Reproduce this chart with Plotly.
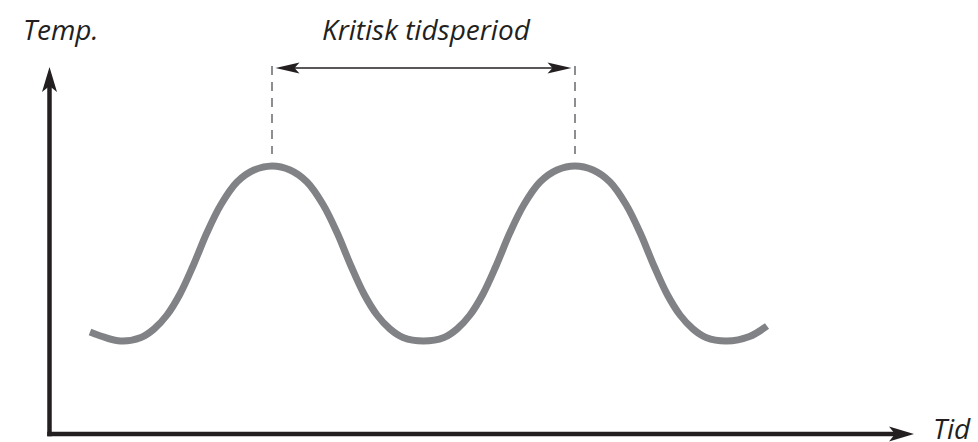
"""Schematic: temperature cycling over time with the critical period marked."""
import plotly.graph_objects as go

# ----- data (time units, temperature units) -----
CURVE_T = [
    4.05, 7.1, 9.15, 10.45, 11.75, 13.05, 14.35, 15.75, 17.15, 18.75, 20.45,
    22.25, 24.05, 25.75, 27.35, 28.75, 30.15, 31.45, 32.75, 34.05, 35.35, 37.4,
    39.45, 40.75, 42.05, 43.35, 44.65, 46.05, 47.45, 49.05, 50.75,
    52.55, 54.35, 56.05, 57.65, 59.05, 60.45, 61.75, 63.05, 64.35, 65.65, 67.7,
    70.0, 71.75,
]
CURVE_TEMP = [
    10.2, 9.3, 9.65, 10.5, 11.9, 14.0, 16.8, 20.15, 22.95, 25.2, 26.4,
    26.8, 26.4, 25.2, 22.95, 20.15, 16.8, 14.0, 11.9, 10.5, 9.65, 9.3,
    9.65, 10.5, 11.9, 14.0, 16.8, 20.15, 22.95, 25.2, 26.4,
    26.8, 26.4, 25.2, 22.95, 20.15, 16.8, 14.0, 11.9, 10.5, 9.65, 9.3,
    9.75, 10.8,
]
PEAKS_T = [22.25, 52.55]          # the two maxima bounding the critical period
PERIOD_Y = 36.6                   # height of the double arrow
GUIDE_BOTTOM = 28.0               # dashed guides stop just above the curve
AXIS_T_END = 86.45
AXIS_TEMP_END = 36.7

LABEL_Y = "Temp."
LABEL_X = "Tid"
LABEL_PERIOD = "Kritisk tidsperiod"

INK = "#231f20"
CURVE_GREY = "#808285"
PX = 10.0  # pixels per data unit (both axes)


def head_path(tip_x, tip_y, dx, dy, length, width, notch):
    """Stealth arrowhead path, tip at (tip_x, tip_y) pointing along (dx, dy)."""
    L, W, N = length / PX, width / PX / 2, notch / PX
    px_, py_ = -dy, dx
    bx, by = tip_x - dx * L, tip_y - dy * L
    cx, cy = tip_x - dx * (L - N), tip_y - dy * (L - N)
    pts = [(tip_x, tip_y), (bx + px_ * W, by + py_ * W), (cx, cy), (bx - px_ * W, by - py_ * W)]
    return "M" + " L".join(f"{x:.3f},{y:.3f}" for x, y in pts) + " Z"


fig = go.Figure()
fig.add_trace(go.Scatter(
    x=CURVE_T, y=CURVE_TEMP, mode="lines",
    line=dict(color=CURVE_GREY, width=7, shape="spline", smoothing=1.0),
    hoverinfo="skip",
))

shapes = []
half = 4.5 / PX / 2
# axes
shapes.append(dict(type="line", x0=-half, y0=0, x1=AXIS_T_END - 1.8, y1=0,
                   line=dict(color=INK, width=4.5)))
shapes.append(dict(type="line", x0=0, y0=-half, x1=0, y1=AXIS_TEMP_END - 1.8,
                   line=dict(color=INK, width=4.5)))
shapes.append(dict(type="path", path=head_path(AXIS_T_END, 0, 1, 0, 25, 15, 6),
                   fillcolor=INK, line=dict(width=0)))
shapes.append(dict(type="path", path=head_path(0, AXIS_TEMP_END, 0, 1, 25, 15, 6),
                   fillcolor=INK, line=dict(width=0)))
# dashed guides at the peaks
for t in PEAKS_T:
    shapes.append(dict(type="line", x0=t, y0=PERIOD_Y + 0.2, x1=t, y1=GUIDE_BOTTOM,
                       line=dict(color=CURVE_GREY, width=1.8, dash="9px,7px")))
# double arrow
a0, a1 = PEAKS_T[0] + 0.35, PEAKS_T[1] - 0.35
shapes.append(dict(type="line", x0=a0 + 1.5, y0=PERIOD_Y, x1=a1 - 1.5, y1=PERIOD_Y,
                   line=dict(color=INK, width=1.3)))
shapes.append(dict(type="path", path=head_path(a0, PERIOD_Y, -1, 0, 24, 11, 5),
                   fillcolor=INK, line=dict(width=0)))
shapes.append(dict(type="path", path=head_path(a1, PERIOD_Y, 1, 0, 24, 11, 5),
                   fillcolor=INK, line=dict(width=0)))

font = dict(family="Open Sans, sans-serif", size=28, color=INK)
annotations = [
    dict(x=-2.85, y=40.5, text=f"<i>{LABEL_Y}</i>", xanchor="left", yanchor="middle"),
    dict(x=37.65, y=40.5, text=f"<i>{LABEL_PERIOD}</i>", xanchor="center", yanchor="middle"),
    dict(x=92.3, y=0.6, text=f"<i>{LABEL_X}</i>", xanchor="right", yanchor="middle"),
]
for a in annotations:
    a.update(xref="x", yref="y", showarrow=False, font=font)

fig.update_layout(
    width=978, height=442, autosize=False,
    margin=dict(l=0, r=0, t=0, b=0),
    paper_bgcolor="white", plot_bgcolor="white",
    showlegend=False,
    shapes=shapes, annotations=annotations,
    xaxis=dict(range=[-4.95, 92.85], visible=False, fixedrange=True),
    yaxis=dict(range=[-0.8, 43.4], visible=False, fixedrange=True),
)

fig.write_html("out.html", config={"displayModeBar": False},
               post_script="document.body.style.margin='0';")
